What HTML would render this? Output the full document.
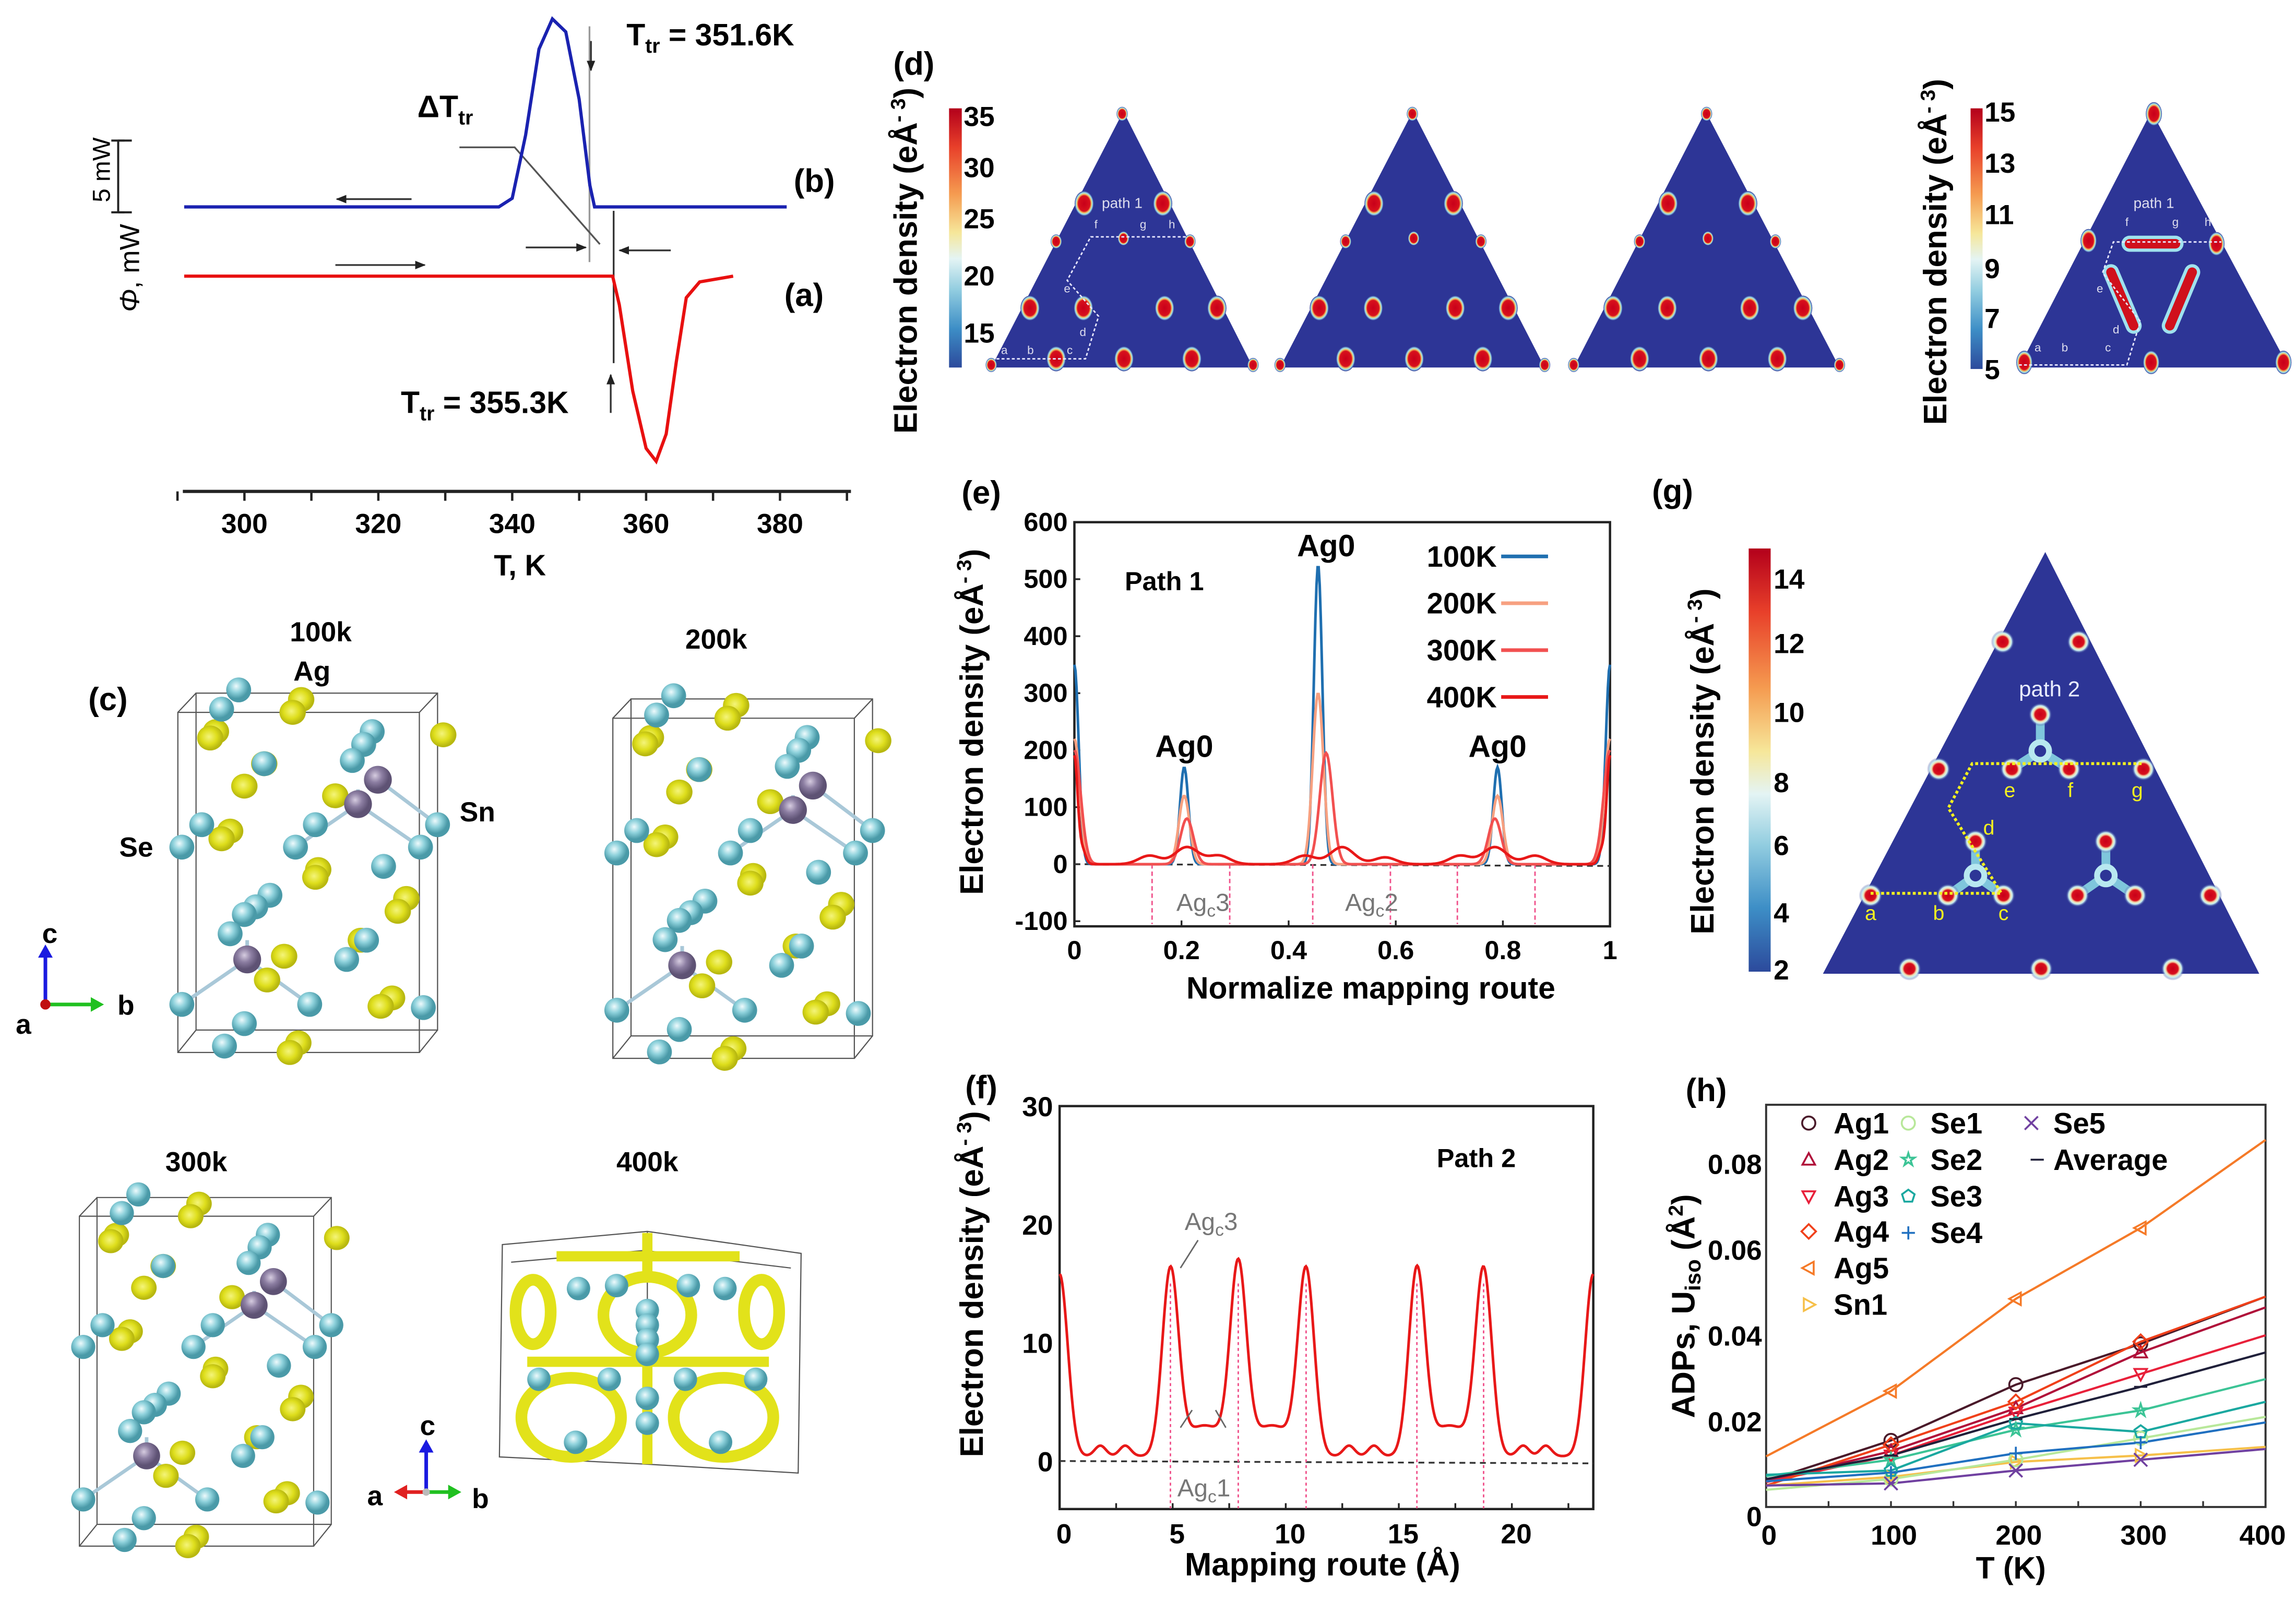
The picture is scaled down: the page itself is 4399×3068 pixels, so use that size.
<!DOCTYPE html>
<html><head><meta charset="utf-8">
<style>
html,body{margin:0;padding:0;background:#fff;}
svg{display:block;}
text{font-family:"Liberation Sans",Arial,sans-serif;}
.b{font-weight:bold;}
</style></head>
<body>
<svg id="fig" xmlns="http://www.w3.org/2000/svg" width="4399" height="3068" viewBox="0 0 1567.7 1093.4" preserveAspectRatio="none">
<defs>
 <linearGradient id="jet" x1="0" y1="0" x2="0" y2="1">
  <stop offset="0" stop-color="#b3001b"/><stop offset="0.15" stop-color="#e8402a"/>
  <stop offset="0.33" stop-color="#f59b50"/><stop offset="0.48" stop-color="#f6e79a"/>
  <stop offset="0.58" stop-color="#e4f4f4"/><stop offset="0.7" stop-color="#92cde0"/>
  <stop offset="0.85" stop-color="#3d8ec6"/><stop offset="1" stop-color="#2c4a9c"/>
 </linearGradient>
 <radialGradient id="spot"><stop offset="0" stop-color="#c8001a"/><stop offset="0.62" stop-color="#d8101c"/>
  <stop offset="0.75" stop-color="#f2c060"/><stop offset="0.86" stop-color="#9fe2ee"/><stop offset="1" stop-color="#2d3596"/></radialGradient>
 <radialGradient id="cy" cx="0.4" cy="0.35"><stop offset="0" stop-color="#eefafc"/><stop offset="0.5" stop-color="#8fd2dc"/><stop offset="1" stop-color="#4a9aa8"/></radialGradient>
 <radialGradient id="ye" cx="0.45" cy="0.45"><stop offset="0" stop-color="#f4f47a"/><stop offset="0.6" stop-color="#dede1c"/><stop offset="1" stop-color="#b8b810"/></radialGradient>
 <radialGradient id="pu" cx="0.4" cy="0.35"><stop offset="0" stop-color="#d6cce0"/><stop offset="0.5" stop-color="#8c7ea2"/><stop offset="1" stop-color="#5e5274"/></radialGradient>
 <radialGradient id="halo"><stop offset="0" stop-color="#c8001a"/><stop offset="0.45" stop-color="#d8101c"/><stop offset="0.6" stop-color="#f4e0b0"/><stop offset="0.75" stop-color="#c8f0f4"/><stop offset="1" stop-color="#2d3596" stop-opacity="0"/></radialGradient>
 <marker id="arr" viewBox="0 0 10 10" refX="9" refY="5" markerWidth="6" markerHeight="6" orient="auto"><path d="M0,1 L10,5 L0,9 z" fill="#222"/></marker>
</defs>

<!-- ===== Panel (a)/(b) DSC ===== -->
<g id="dsc">
 <text x="485" y="31" font-size="21" class="b" text-anchor="middle">T<tspan font-size="14" dy="5">tr</tspan><tspan dy="-5"> = 351.6K</tspan></text>
 <text x="304" y="80" font-size="21" class="b" text-anchor="middle">ΔT<tspan font-size="14" dy="5">tr</tspan></text>
 <text x="556" y="131" font-size="22" class="b" text-anchor="middle">(b)</text>
 <text x="549" y="209" font-size="22" class="b" text-anchor="middle">(a)</text>
 <text x="331" y="282" font-size="21" class="b" text-anchor="middle">T<tspan font-size="14" dy="5">tr</tspan><tspan dy="-5"> = 355.3K</tspan></text>
 <text x="355" y="393" font-size="20" class="b" text-anchor="middle">T, K</text>
 <text transform="translate(95,183) rotate(-90)" font-size="19" font-family="Liberation Serif" text-anchor="middle"><tspan font-style="italic">Φ</tspan>, mW</text>
 <text transform="translate(75,116) rotate(-90)" font-size="17" font-family="Liberation Serif" text-anchor="middle">5 mW</text>
 <g stroke="#222" stroke-width="1.4" fill="none">
  <line x1="80.7" y1="96" x2="80.7" y2="145"/><line x1="80.7" y1="96" x2="90" y2="96"/><line x1="80.7" y1="145" x2="90" y2="145"/>
  <line x1="76" y1="96" x2="85" y2="96"/><line x1="76" y1="145" x2="85" y2="145"/>
 </g>
 <g stroke="#333" stroke-width="1.2" fill="none">
  <line x1="281" y1="136" x2="230" y2="136" marker-end="url(#arr)"/>
  <line x1="229" y1="181" x2="290" y2="181" marker-end="url(#arr)"/>
  <line x1="402.5" y1="18" x2="402.5" y2="179" stroke="#999"/>
  <line x1="403.5" y1="28" x2="403.5" y2="48" marker-end="url(#arr)"/>
  <line x1="419" y1="144" x2="419" y2="248"/>
  <line x1="417" y1="282" x2="417" y2="256" marker-end="url(#arr)"/>
  <line x1="359" y1="169" x2="400" y2="169" marker-end="url(#arr)"/>
  <line x1="458" y1="171" x2="423" y2="171" marker-end="url(#arr)"/>
  <polyline points="313.7,100.6 351.4,100.6 409.6,166.8" stroke="#555"/>
 </g>
 <g id="dsc-axis"></g>
 <g id="dsc-curves"></g>
</g>

<!-- ===== Panel (c) structures ===== -->
<g id="structs">
 <text x="73.7" y="485" font-size="22" class="b" text-anchor="middle">(c)</text>
 <text x="219" y="438" font-size="19" class="b" text-anchor="middle">100k</text>
 <text x="213" y="465" font-size="19" class="b" text-anchor="middle">Ag</text>
 <text x="326" y="561" font-size="19" class="b" text-anchor="middle">Sn</text>
 <text x="93" y="585" font-size="19" class="b" text-anchor="middle">Se</text>
 <text x="489" y="443" font-size="19" class="b" text-anchor="middle">200k</text>
 <text x="134" y="800" font-size="19" class="b" text-anchor="middle">300k</text>
 <text x="442" y="800" font-size="19" class="b" text-anchor="middle">400k</text>
 <g id="cells"></g>
 <g>
  <line x1="31" y1="686" x2="31" y2="652" stroke="#1a1ae0" stroke-width="2.5"/><path d="M26,654 L31,645 L36,654z" fill="#1a1ae0"/>
  <line x1="31" y1="686" x2="64" y2="686" stroke="#20c020" stroke-width="2.5"/><path d="M62,681 L71,686 L62,691z" fill="#20c020"/>
  <circle cx="31" cy="686" r="3.5" fill="#c01010"/>
  <text x="34" y="644" font-size="19" class="b" text-anchor="middle">c</text>
  <text x="86" y="693" font-size="19" class="b" text-anchor="middle">b</text>
  <text x="16" y="706" font-size="19" class="b" text-anchor="middle">a</text>
 </g>
 <g>
  <line x1="291" y1="1019" x2="291" y2="990" stroke="#1a1ae0" stroke-width="2.5"/><path d="M286,992 L291,983 L296,992z" fill="#1a1ae0"/>
  <line x1="291" y1="1019" x2="276" y2="1019" stroke="#e02020" stroke-width="2.5"/><path d="M278,1014 L269,1019 L278,1024z" fill="#e02020"/>
  <line x1="291" y1="1019" x2="308" y2="1019" stroke="#20c020" stroke-width="2.5"/><path d="M306,1014 L315,1019 L306,1024z" fill="#20c020"/>
  <circle cx="291" cy="1019" r="2.5" fill="#bbb"/>
  <text x="292" y="980" font-size="19" class="b" text-anchor="middle">c</text>
  <text x="256" y="1028" font-size="19" class="b" text-anchor="middle">a</text>
  <text x="328" y="1030" font-size="19" class="b" text-anchor="middle">b</text>
 </g>
</g>

<!-- ===== Panel (d) density maps ===== -->
<g id="maps">
 <text x="624" y="51" font-size="22" class="b" text-anchor="middle">(d)</text>
 <text transform="translate(626,178) rotate(-90)" font-size="22" class="b" text-anchor="middle">Electron density (eÅ<tspan font-size="14" dy="-8">- 3</tspan><tspan dy="8">)</tspan></text>
 <rect x="648" y="74" width="8.7" height="177" fill="url(#jet)"/>
 <g font-size="19" class="b">
  <text x="658" y="86">35</text><text x="658" y="121">30</text><text x="658" y="156">25</text><text x="658" y="195">20</text><text x="658" y="234">15</text>
 </g>
 <text transform="translate(1329,172) rotate(-90)" font-size="22" class="b" text-anchor="middle">Electron density (eÅ<tspan font-size="14" dy="-8">- 3</tspan><tspan dy="8">)</tspan></text>
 <rect x="1345.5" y="74" width="8.2" height="178" fill="url(#jet)"/>
 <g font-size="19" class="b">
  <text x="1355" y="83">15</text><text x="1355" y="118">13</text><text x="1355" y="153">11</text><text x="1355" y="190">9</text><text x="1355" y="224">7</text><text x="1355" y="259">5</text>
 </g>
 <g id="tris"></g>
</g>

<!-- ===== Panel (g) ===== -->
<g id="gpanel">
 <text x="1142" y="343" font-size="22" class="b" text-anchor="middle">(g)</text>
 <text transform="translate(1170,520) rotate(-90)" font-size="22" class="b" text-anchor="middle">Electron density (eÅ<tspan font-size="14" dy="-8">- 3</tspan><tspan dy="8">)</tspan></text>
 <rect x="1194" y="374.6" width="15" height="289" fill="url(#jet)"/>
 <g font-size="19" class="b">
  <text x="1211" y="402">14</text><text x="1211" y="446">12</text><text x="1211" y="493">10</text><text x="1211" y="541">8</text><text x="1211" y="584">6</text><text x="1211" y="630">4</text><text x="1211" y="669">2</text>
 </g>
 <g id="gmap"></g>
</g>

<!-- ===== Panel (e) ===== -->
<g id="epanel">
 <text x="670" y="344" font-size="22" class="b" text-anchor="middle">(e)</text>
 <text transform="translate(671,493) rotate(-90)" font-size="22" class="b" text-anchor="middle">Electron density (eÅ<tspan font-size="14" dy="-8">- 3</tspan><tspan dy="8">)</tspan></text>
 <text x="936" y="682" font-size="21" class="b" text-anchor="middle">Normalize mapping route</text>
 <text x="795" y="403" font-size="18" class="b" text-anchor="middle">Path 1</text>
 <g id="echart"></g>
</g>

<!-- ===== Panel (f) ===== -->
<g id="fpanel">
 <text x="670" y="750" font-size="22" class="b" text-anchor="middle">(f)</text>
 <text transform="translate(671,877) rotate(-90)" font-size="22" class="b" text-anchor="middle">Electron density (eÅ<tspan font-size="14" dy="-8">- 3</tspan><tspan dy="8">)</tspan></text>
 <text x="903" y="1076" font-size="22" class="b" text-anchor="middle">Mapping route (Å)</text>
 <text x="1008" y="797" font-size="18" class="b" text-anchor="middle">Path 2</text>
 <g id="fchart"></g>
</g>

<!-- ===== Panel (h) ===== -->
<g id="hpanel">
 <text x="1165" y="752" font-size="22" class="b" text-anchor="middle">(h)</text>
 <text transform="translate(1157,892) rotate(-90)" font-size="22" class="b" text-anchor="middle">ADPs, U<tspan font-size="15" dy="4">iso</tspan><tspan dy="-4"> (Å</tspan><tspan font-size="14" dy="-8">2</tspan><tspan dy="8">)</tspan></text>
 <text x="1373" y="1078" font-size="21" class="b" text-anchor="middle">T (K)</text>
 <g id="hchart"></g>
</g>
</svg>

<script>
// ---------- DATA ----------
// DSC (a)/(b): temperature (K) and heat flow offset (mW)
const blueT = [291,300,320,338,340,342,344,346,348,350,351.6,352.3,360,381];
const blueV = [0,0,0,0,0.6,5,11,13.1,12.2,7.5,1.5,0,0,0];
const redT  = [291,300,320,340,355,356,358,360,361.5,363,364.5,366,368,373];
const redV  = [0,0,0,0,0,-2,-8,-12,-12.9,-11,-6,-1.5,-0.4,0];
const dscTicks = [300,320,340,360,380];

// (e) path 1
const eTicksY = [-100,0,100,200,300,400,500,600];
const eTicksX = [0,0.2,0.4,0.6,0.8,1];
const e100Pos = [0,0.205,0.455,0.79,1];
const e100Val = [350,170,525,170,350];
const e200Pos = [0,0.205,0.455,0.79,1];
const e200Val = [220,120,300,120,220];
const e300Pos = [0,0.21,0.47,0.785,1];
const e300Val = [200,80,195,80,200];
const e400Pos = [0,0.015,0.14,0.21,0.27,0.43,0.50,0.58,0.72,0.785,0.86,0.985,1];
const e400Val = [190,25,15,30,15,15,30,12,15,30,15,25,190];
const eLegend = ['100K','200K','300K','400K'];
const eMarkers = [0.145,0.29,0.445,0.59,0.715,0.86];

// (f) path 2
const fTicksY = [0,10,20,30];
const fTicksX = [0,5,10,15,20];
const fPeakPos = [0,4.9,7.9,10.9,15.8,18.75,23.6];
const fPeakVal = [15.4,15.4,15.4,15.4,15.4,15.4,15.4];
const fShoulderPos = [6.4,9.4,17.25];
const fShoulderVal = [2.6,2.6,2.6];
const fBumpPos = [1.8,2.9,12.8,13.9,20.5,21.5];
const fBumpVal = [0.9,0.9,0.9,0.9,0.9,0.9];
const fBase = 0.4;
const fMarkers = [4.9,7.9,10.9,15.8,18.75];

// (h) ADPs
const hT = [0,100,200,300,400];
const hTicksX = [0,100,200,300,400];
const hTicksY = [0,0.02,0.04,0.06,0.08];
const hNames = ['Ag1','Ag2','Ag3','Ag4','Ag5','Sn1','Se1','Se2','Se3','Se4','Se5','Average'];
const hAg1 = [0.006,0.0155,0.0285,0.038,0.049];
const hAg2 = [0.006,0.013,0.023,0.036,0.0465];
const hAg3 = [0.0058,0.012,0.022,0.031,0.040];
const hAg4 = [0.005,0.0145,0.0245,0.0385,0.049];
const hAg5 = [0.0118,0.027,0.0485,0.065,0.0855];
const hSn1 = [0.005,0.007,0.0105,0.012,0.014];
const hSe1 = [0.004,0.0065,0.011,0.016,0.021];
const hSe2 = [0.0072,0.011,0.018,0.0225,0.0298];
const hSe3 = [0.0075,0.0085,0.0195,0.0175,0.0245];
const hSe4 = [0.006,0.008,0.0125,0.015,0.0197];
const hSe5 = [0.005,0.0055,0.0085,0.011,0.0135];
const hAvg = [0.0065,0.012,0.0205,0.028,0.036];

// ---------- HELPERS ----------
const NS='http://www.w3.org/2000/svg';
function mk(tag, parent){const e=document.createElementNS(NS,tag);parent.appendChild(e);return e;}
function at(e,o){for(const k in o)e.setAttribute(k,o[k]);return e;}

// ---------- DSC ----------
const ax = T => 166.9 + (T-300)*4.571;
const blueBase = 141.3, redBase = 188.6, mW = 9.8;
(function(){
 const g=document.getElementById('dsc-axis');
 const l=mk('line',g);
 
 
 at(l,{x1:ax(290.8),x2:ax(390.6),y1:335.6,y2:335.6,stroke:'#222','stroke-width':2.2});
 for(let T=290;T<=390;T+=10){
  const t=mk('line',g);
  
  
  at(t,{x1:ax(T),x2:ax(T),y1:335.6,y2:342,stroke:'#222','stroke-width':1.6});
 }
 dscTicks.forEach(T=>{
  const tx=mk('text',g);
  
  
  at(tx,{x:ax(T),y:364,'font-size':19,'text-anchor':'middle','font-weight':'bold'});
  tx.textContent=T;
 });
 const c=document.getElementById('dsc-curves');
 const pb=mk('polyline',c);
 
 
 at(pb,{points:blueT.map((T,i)=>ax(T)+','+(blueBase-blueV[i]*mW)).join(' '),fill:'none',stroke:'#1a22b0','stroke-width':2.2});
 const pr=mk('polyline',c);
 
 
 at(pr,{points:redT.map((T,i)=>ax(T)+','+(redBase-redV[i]*mW)).join(' '),fill:'none',stroke:'#e81010','stroke-width':2.2});
})();

// ---------- CRYSTAL CELLS ----------
const sx = d => d*0.388, sy = d => 409.8 + d*0.4383;
const cyanAtoms=[[420,140],[390,170],[655,205],[640,225],[620,250],[465,255],[355,350],[320,385],[555,350],[520,385],[770,350],[740,385],[675,415],[475,460],[450,478],[430,490],[405,520],[645,530],[610,560],[320,630],[545,630],[745,635],[430,660],[395,695]];
const yellowAtoms=[[530,155],[515,175],[380,205],[370,215],[465,255],[430,290],[405,360],[390,372],[560,420],[555,432],[715,465],[700,485],[500,555],[635,530],[470,592],[690,620],[670,633],[525,690],[510,705],[590,305],[780,210]];
const purpleAtoms=[[665,280],[630,318],[435,560]];
const bonds=[[630,318,520,385],[630,318,740,385],[665,280,770,350],[435,560,320,630],[435,560,545,630],[630,318,630,295],[435,560,435,530]];
function cell(parent, ox, oy, s, name){
 const g=mk('g',parent);
 
 
 g.setAttribute('transform',`translate(${ox},${oy}) scale(${s})`);
 const P=(x,y)=>[sx(x),sy(y)];
 const f=[P(313,175),P(738,175),P(738,705),P(313,705)];
 const b=[P(345,145),P(770,145),P(770,670),P(345,670)];
 const box=mk('path',g);
 
 
 let d='M'+f.map(p=>p.join(',')).join('L')+'Z M'+b.map(p=>p.join(',')).join('L')+'Z';
 for(let i=0;i<4;i++) d+=' M'+f[i].join(',')+'L'+b[i].join(',');
 at(box,{d:d,fill:'none',stroke:'#555','stroke-width':0.8});
 bonds.forEach(q=>{
  const l=mk('line',g);
  
  
  at(l,{x1:sx(q[0]),y1:sy(q[1]),x2:sx(q[2]),y2:sy(q[3]),stroke:'#a9c8d8','stroke-width':2.5});
 });
 yellowAtoms.forEach(q=>{
  const e=mk('ellipse',g);
  
  
  at(e,{cx:sx(q[0]),cy:sy(q[1]),rx:9,ry:8.5,fill:'url(#ye)'});
 });
 cyanAtoms.forEach(q=>{
  const e=mk('circle',g);
  
  
  at(e,{cx:sx(q[0]),cy:sy(q[1]),r:8.5,fill:'url(#cy)'});
 });
 purpleAtoms.forEach(q=>{
  const e=mk('circle',g);
  
  
  at(e,{cx:sx(q[0]),cy:sy(q[1]),r:9.5,fill:'url(#pu)'});
 });
}
const cellsG=document.getElementById('cells');
cell(cellsG,0,0,1,'cell-100k');
cell(cellsG,297,4,1,'cell-200k');
cell(cellsG,-63.6,358.7,0.97,'cell-300k');
(function(){
 const g=mk('g',cellsG);
 
 
 const box=mk('path',g);
 
 
 at(box,{d:'M343,850 L442,841 L547,856 L545,1006 L442,1000 L341,995 Z M442,841 L442,1000 M349,862 L440,854 L540,866',fill:'none',stroke:'#555','stroke-width':0.8});
 const rings=[[442,898,30,26],[390,968,34,27],[494,968,34,27],[364,896,12,22],[520,896,12,22]];
 rings.forEach(r=>{
  const e=mk('ellipse',g);
  
  
  at(e,{cx:r[0],cy:r[1],rx:r[2],ry:r[3],fill:'none',stroke:'#e2e21a','stroke-width':8});
 });
 const bars=[[380,858,505,858],[442,842,442,870],[360,930,525,930],[442,930,442,1000]];
 bars.forEach(q=>{
  const l=mk('line',g);
  
  
  at(l,{x1:q[0],y1:q[1],x2:q[2],y2:q[3],stroke:'#e2e21a','stroke-width':7});
 });
 const at4=[[395,880],[421,878],[470,878],[495,880],[442,895],[442,905],[442,915],[442,925],[368,942],[416,942],[468,942],[516,942],[442,955],[442,972],[393,985],[492,985]];
 at4.forEach(q=>{
  const e=mk('circle',g);
  
  
  at(e,{cx:q[0],cy:q[1],r:8,fill:'url(#cy)'});
 });
})();

// ---------- TRIANGLE MAPS ----------
const triSpots=[[0.355,0.36,1],[0.655,0.36,1],[0.505,0.496,0],[0.248,0.508,0],[0.759,0.508,0],[0.148,0.768,1],[0.352,0.768,1],[0.662,0.768,1],[0.862,0.768,1],[0.248,0.966,1],[0.507,0.966,0.6],[0.766,0.966,1],[0.5,0.01,0],[0.0,0.99,0],[1.0,0.99,0]];
const tris=[[676.8,855.6,767,'map-100k'],[874,1054.7,964.7,'map-200k'],[1074.5,1256,1164.5,'map-300k']];
const triG=document.getElementById('tris');
const TOP=76, BASE=251;
tris.forEach(t=>{
 const g=mk('g',triG);
 
 
 const p=mk('polygon',g);
 
 
 at(p,{points:`${t[2]},${TOP} ${t[0]},${BASE} ${t[1]},${BASE}`,fill:'#2d3596'});
 const W=t[1]-t[0];
 triSpots.forEach(s=>{
  const e=mk('ellipse',g);
  
  
  const big=s[2];
  at(e,{cx:t[0]+s[0]*W,cy:TOP+s[1]*(BASE-TOP),rx:big?6.5:(big===0?3.8:5),ry:big?8.5:4.8,fill:'url(#spot)'});
 });
});
(function(){
 const t=tris[0]; const W=t[1]-t[0];
 const g=mk('g',triG);
 
 
 const X=u=>t[0]+u*W, Y=v=>TOP+v*(BASE-TOP);
 const pl=mk('polyline',g);
 
 
 at(pl,{points:`${X(0.02)},${Y(0.966)} ${X(0.36)},${Y(0.966)} ${X(0.41)},${Y(0.8)} ${X(0.29)},${Y(0.66)} ${X(0.38)},${Y(0.49)} ${X(0.75)},${Y(0.49)}`,fill:'none',stroke:'#e8e8ff','stroke-width':1,'stroke-dasharray':'2,1.5'});
 const labs=[['path 1',0.5,0.36],['f',0.4,0.44],['g',0.58,0.44],['h',0.69,0.44],['e',0.29,0.69],['d',0.35,0.86],['a',0.05,0.93],['b',0.15,0.93],['c',0.3,0.93]];
 labs.forEach(l=>{
  const tx=mk('text',g);
  
  
  at(tx,{x:X(l[1]),y:Y(l[2])+3,'font-size':l[0].length>1?10:8,fill:'#dde','text-anchor':'middle'});
  tx.textContent=l[0];
 });
})();
// 400K map
(function(){
 const L=1378.5,R=1562.8,A=1469,W=R-L;
 const g=mk('g',triG);
 
 
 const p=mk('polygon',g);
 
 
 at(p,{points:`${A},${TOP} ${L},${BASE} ${R},${BASE}`,fill:'#2d3596'});
 const X=u=>L+u*W, Y=v=>TOP+v*(BASE-TOP);
 const rods=[[0.41,0.517,0.58,0.517],[0.341,0.628,0.425,0.837],[0.642,0.628,0.559,0.837]];
 rods.forEach(r=>{
  const l1=mk('line',g);
  
  
  at(l1,{x1:X(r[0]),y1:Y(r[1]),x2:X(r[2]),y2:Y(r[3]),stroke:'#9fe2ee','stroke-width':11,'stroke-linecap':'round'});
  const l2=mk('line',g);
  
  
  at(l2,{x1:X(r[0]),y1:Y(r[1]),x2:X(r[2]),y2:Y(r[3]),stroke:'#d0101c','stroke-width':6.5,'stroke-linecap':'round'});
 });
 const sp=[[0.258,0.505],[0.732,0.517],[0.49,0.98],[0.5,0.01],[0.02,0.98],[0.98,0.98]];
 sp.forEach(s=>{
  const e=mk('ellipse',g);
  
  
  at(e,{cx:X(s[0]),cy:Y(s[1]),rx:5.5,ry:8,fill:'url(#spot)'});
 });
 const pl=mk('polyline',g);
 
 
 at(pl,{points:`${X(0.0)},${Y(0.99)} ${X(0.4)},${Y(0.99)} ${X(0.45)},${Y(0.82)} ${X(0.31)},${Y(0.63)} ${X(0.35)},${Y(0.51)} ${X(0.75)},${Y(0.51)}`,fill:'none',stroke:'#e8e8ff','stroke-width':1,'stroke-dasharray':'2,1.5'});
 const labs=[['path 1',0.5,0.36],['f',0.4,0.43],['g',0.58,0.43],['h',0.7,0.43],['e',0.3,0.69],['d',0.36,0.85],['a',0.07,0.92],['b',0.17,0.92],['c',0.33,0.92]];
 labs.forEach(l=>{
  const tx=mk('text',g);
  
  
  at(tx,{x:X(l[1]),y:Y(l[2])+3,'font-size':l[0].length>1?10:8,fill:'#dde','text-anchor':'middle'});
  tx.textContent=l[0];
 });
})();

// ---------- (g) MAP ----------
(function(){
 const gm=document.getElementById('gmap');
 const L=1244.7,R=1542.6,T=377,B=665,A=1396.5;
 const cx=dx=>(3150+dx/1.249)/2.806, cy=dy=>(880+dy/1.529)/2.806;
 const p=mk('polygon',gm);
 
 
 at(p,{points:`${A},${T} ${L},${B} ${R},${B}`,fill:'#2d3596'});
 const tref=[[948,855,[[948,748],[880,908],[1017,908]]],[793,1220,[[793,1120],[727,1278],[860,1278]]],[1105,1220,[[1105,1120],[1037,1278],[1175,1278]]]];
 tref.forEach(t=>{
  t[2].forEach(q=>{
   const l=mk('line',gm);
   
   
   at(l,{x1:cx(t[0]),y1:cy(t[1]),x2:cx(q[0]),y2:cy(q[1]),stroke:'#7fc6dc','stroke-width':6,'stroke-linecap':'round'});
  });
  const r=mk('circle',gm);
  
  
  at(r,{cx:cx(t[0]),cy:cy(t[1]),r:6,fill:'#2d3596',stroke:'#b8e8f0','stroke-width':4});
 });
 const spots=[[858,535],[1040,535],[948,748],[880,908],[1017,908],[705,908],[1195,908],[793,1120],[727,1278],[860,1278],[1105,1120],[1037,1278],[1175,1278],[542,1278],[1355,1278],[635,1493],[950,1493],[1265,1493]];
 spots.forEach(q=>{
  const e=mk('circle',gm);
  
  
  at(e,{cx:cx(q[0]),cy:cy(q[1]),r:8,fill:'url(#halo)'});
 });
 const path=mk('polyline',gm);
 
 
 at(path,{points:[[542,1272],[855,1272],[728,1022],[785,892],[1195,892]].map(q=>cx(q[0])+','+cy(q[1])).join(' '),fill:'none',stroke:'#f2f020','stroke-width':2,'stroke-dasharray':'2,1.6'});
 const labs=[['a',542,1350],['b',705,1350],['c',860,1350],['d',825,1100],['e',875,990],['f',1020,990],['g',1180,990]];
 labs.forEach(l=>{
  const tx=mk('text',gm);
  
  
  at(tx,{x:cx(l[1]),y:cy(l[2]),'font-size':14,fill:'#f2f020','text-anchor':'middle'});
  tx.textContent=l[0];
 });
 const pt=mk('text',gm);
 
 
 at(pt,{x:cx(970),y:cy(695),'font-size':15,fill:'#e8ecff','text-anchor':'middle'});
 pt.textContent='path 2';
})();

// ---------- (e) CHART ----------
const exS = v => 733.6 + v*(1099.3-733.6);
const eyS = v => 590.2 - v*0.3893;
function gsum(pos,val,w,x){let s=0;for(let i=0;i<pos.length;i++){const ww=Array.isArray(w)?w[i]:w;s+=val[i]*Math.exp(-((x-pos[i])**2)/(2*ww*ww));}return s;}
(function(){
 const g=document.getElementById('echart');
 const fr=mk('rect',g);
 
 
 at(fr,{x:exS(0),y:eyS(600),width:exS(1)-exS(0),height:eyS(-109)-eyS(600),fill:'none',stroke:'#222','stroke-width':1.6});
 eTicksY.forEach(v=>{
  const t=mk('text',g);
  
  
  at(t,{x:729,y:eyS(v)+6,'font-size':18,'font-weight':'bold','text-anchor':'end'});
  t.textContent=v;
  const tk=mk('line',g);
  
  
  at(tk,{x1:exS(0),x2:exS(0)+4,y1:eyS(v),y2:eyS(v),stroke:'#222','stroke-width':1.2});
 });
 eTicksX.forEach(v=>{
  const t=mk('text',g);
  
  
  at(t,{x:exS(v),y:655,'font-size':18,'font-weight':'bold','text-anchor':'middle'});
  t.textContent=v;
  const tk=mk('line',g);
  
  
  at(tk,{x1:exS(v),x2:exS(v),y1:eyS(-109),y2:eyS(-109)-4,stroke:'#222','stroke-width':1.2});
 });
 const z=mk('line',g);
 
 
 at(z,{x1:exS(0),x2:exS(1),y1:eyS(0),y2:eyS(-3),stroke:'#333','stroke-width':1.2,'stroke-dasharray':'4,3'});
 eMarkers.forEach(v=>{
  const l=mk('line',g);
  
  
  at(l,{x1:exS(v),x2:exS(v),y1:eyS(0),y2:eyS(-105),stroke:'#f0508a','stroke-width':1,'stroke-dasharray':'3,2'});
 });
 const series=[[e100Pos,e100Val,0.008,'#1f6fb0','series-100k'],[e200Pos,e200Val,0.01,'#f7a080','series-200k'],[e300Pos,e300Val,0.012,'#f25050','series-300k'],[e400Pos,e400Val,[0.006,0.006,0.02,0.022,0.02,0.02,0.022,0.02,0.02,0.022,0.02,0.006,0.006],'#e81818','series-400k']];
 series.forEach(s=>{
  let pts=[];
  for(let i=0;i<=500;i++){const x=i/500;pts.push(exS(x).toFixed(2)+','+eyS(gsum(s[0],s[1],s[2],x)).toFixed(2));}
  const pl=mk('polyline',g);
  
  
  at(pl,{points:pts.join(' '),fill:'none',stroke:s[3],'stroke-width':1.8});
 });
 const cols=['#1f6fb0','#f7a080','#f25050','#e81818'];
 eLegend.forEach((n,i)=>{
  const y=380+i*32;
  const t=mk('text',g);
  
  
  at(t,{x:1022,y:y+7,'font-size':20,'font-weight':'bold','text-anchor':'end'});
  t.textContent=n;
  const l=mk('line',g);
  
  
  at(l,{x1:1025,x2:1057,y1:y,y2:y,stroke:cols[i],'stroke-width':2.5});
 });
 const ag=[[0.205,517],[0.47,380],[0.79,517]];
 ag.forEach(a=>{
  const t=mk('text',g);
  
  
  at(t,{x:exS(a[0]),y:a[1],'font-size':21,'font-weight':'bold','text-anchor':'middle'});
  t.textContent='Ag0';
 });
 const agc=[[0.24,'3',622],[0.555,'2',622]];
 agc.forEach(a=>{
  const t=mk('text',g);
  
  
  at(t,{x:exS(a[0]),y:a[2],'font-size':17,fill:'#777','text-anchor':'middle'});
  t.innerHTML='Ag<tspan font-size="12" dy="4">c</tspan><tspan dy="-4">'+a[1]+'</tspan>';
 });
})();

// ---------- (f) CHART ----------
const fxS = v => 723.5 + v*15.44;
const fyS = v => 997.8 - v*8.08;
(function(){
 const g=document.getElementById('fchart');
 const fr=mk('rect',g);
 
 
 at(fr,{x:fxS(0),y:fyS(30),width:fxS(23.6)-fxS(0),height:fyS(-4.06)-fyS(30),fill:'none',stroke:'#222','stroke-width':1.6});
 fTicksY.forEach(v=>{
  const t=mk('text',g);
  
  
  at(t,{x:719,y:fyS(v)+7,'font-size':19,'font-weight':'bold','text-anchor':'end'});
  t.textContent=v;
 });
 fTicksX.forEach(v=>{
  const t=mk('text',g);
  
  
  at(t,{x:fxS(v)+3,y:1054,'font-size':19,'font-weight':'bold','text-anchor':'middle'});
  t.textContent=v;
 });
 for(let v=0;v<=22.5;v+=2.5){
  const tk=mk('line',g);
  
  
  at(tk,{x1:fxS(v),x2:fxS(v),y1:fyS(-4.06),y2:fyS(-4.06)-4,stroke:'#222','stroke-width':1.2});
 }
 const z=mk('line',g);
 
 
 at(z,{x1:fxS(0),x2:fxS(23.6),y1:fyS(0),y2:fyS(-0.2),stroke:'#333','stroke-width':1.2,'stroke-dasharray':'4,3'});
 fMarkers.forEach(v=>{
  const l=mk('line',g);
  
  
  at(l,{x1:fxS(v),x2:fxS(v),y1:fyS(15),y2:fyS(-4),stroke:'#f0508a','stroke-width':1,'stroke-dasharray':'2,2'});
 });
 let pts=[];
 for(let i=0;i<=600;i++){const x=i/600*23.6;const y=fBase+gsum(fPeakPos,fPeakVal,0.36,x)+gsum(fShoulderPos,fShoulderVal,0.9,x)+gsum(fBumpPos,fBumpVal,0.25,x);pts.push(fxS(x).toFixed(2)+','+fyS(y).toFixed(2));}
 const pl=mk('polyline',g);
 
 
 at(pl,{points:pts.join(' '),fill:'none',stroke:'#e81818','stroke-width':1.8});
 const a3=mk('text',g);
 
 
 at(a3,{x:827,y:840,'font-size':17,fill:'#777','text-anchor':'middle'});
 a3.innerHTML='Ag<tspan font-size="12" dy="4">c</tspan><tspan dy="-4">3</tspan>';
 const a1=mk('text',g);
 
 
 at(a1,{x:822,y:1022,'font-size':17,fill:'#777','text-anchor':'middle'});
 a1.innerHTML='Ag<tspan font-size="12" dy="4">c</tspan><tspan dy="-4">1</tspan>';
 const ld=mk('path',g);
 
 
 at(ld,{d:'M818,847 L806,866 M806,975 L814,963 M830,963 L837,975',stroke:'#666','stroke-width':1,fill:'none'});
})();

// ---------- (h) CHART ----------
const hxS = v => 1205.9 + v*(1546.9-1205.9)/400;
const hyS = v => 1029.2 - v/0.0937*(1029.2-754.5);
(function(){
 const g=document.getElementById('hchart');
 const fr=mk('rect',g);
 
 
 at(fr,{x:hxS(0),y:hyS(0.0937),width:hxS(400)-hxS(0),height:hyS(0)-hyS(0.0937),fill:'none',stroke:'#333','stroke-width':1.4});
 hTicksY.forEach(v=>{
  const t=mk('text',g);
  
  
  at(t,{x:1203,y:hyS(v)+(v===0?13:7),'font-size':19,'font-weight':'bold','text-anchor':'end'});
  t.textContent=v;
 });
 hTicksX.forEach(v=>{
  const t=mk('text',g);
  
  
  at(t,{x:hxS(v)+(v===400?-2:2),y:1055,'font-size':19,'font-weight':'bold','text-anchor':'middle'});
  t.textContent=v;
 });
 for(let v=50;v<400;v+=50){
  const tk=mk('line',g);
  
  
  at(tk,{x1:hxS(v),x2:hxS(v),y1:hyS(0),y2:hyS(0)-4,stroke:'#333','stroke-width':1.2});
 }
 const data=[hAg1,hAg2,hAg3,hAg4,hAg5,hSn1,hSe1,hSe2,hSe3,hSe4,hSe5,hAvg];
 const cols=['#4a1a2a','#b0103a','#e8203a','#f0401a','#f57a28','#f6c04a','#b8e89a','#3cc496','#1aa8a0','#2070c0','#7040a0','#20203a'];
 const marks=['o','^','v','d','<','>','o','*','p','+','x','-'];
 data.forEach((arr,k)=>{
  let d='';
  for(let i=0;i<=80;i++){
   const T=i*5;
   let j=Math.min(3,Math.floor(T/100));
   const tt=(T-hT[j])/100;
   let v=arr[j]+(arr[j+1]-arr[j])*tt;
   d+=(i?'L':'M')+hxS(T).toFixed(2)+','+hyS(v).toFixed(2);
  }
  const p=mk('path',g);
  
  
  at(p,{d:d,fill:'none',stroke:cols[k],'stroke-width':1.5});
 });
 function marker(type,x,y,c,s,name){
  let e;
  if(type==='o'){e=mk('circle',g);at(e,{cx:x,cy:y,r:s});}
  else if(type==='+'){e=mk('path',g);at(e,{d:`M${x-s},${y}L${x+s},${y}M${x},${y-s}L${x},${y+s}`});}
  else if(type==='x'){e=mk('path',g);at(e,{d:`M${x-s},${y-s}L${x+s},${y+s}M${x-s},${y+s}L${x+s},${y-s}`});}
  else if(type==='-'){e=mk('path',g);at(e,{d:`M${x-s},${y}L${x+s},${y}`});}
  else {
   const shapes={'^':[[0,-1],[0.95,0.75],[-0.95,0.75]],'v':[[0,1],[0.95,-0.75],[-0.95,-0.75]],'d':[[0,-1.1],[1.1,0],[0,1.1],[-1.1,0]],'<':[[-1,0],[0.75,-0.95],[0.75,0.95]],'>':[[1,0],[-0.75,-0.95],[-0.75,0.95]],'p':[[0,-1],[0.95,-0.31],[0.59,0.81],[-0.59,0.81],[-0.95,-0.31]],'*':[[0,-1],[0.22,-0.3],[0.95,-0.31],[0.36,0.12],[0.59,0.81],[0,0.38],[-0.59,0.81],[-0.36,0.12],[-0.95,-0.31],[-0.22,-0.3]]};
   e=mk('polygon',g);at(e,{points:shapes[type].map(q=>(x+q[0]*s).toFixed(2)+','+(y+q[1]*s).toFixed(2)).join(' ')});
  }
  
  
  at(e,{fill:'none',stroke:c,'stroke-width':1.3});
 }
 data.forEach((arr,k)=>{
  for(let i=1;i<=3;i++) marker(marks[k],hxS(hT[i]),hyS(arr[i]),cols[k],4.5,'adp-point-'+hNames[k].toLowerCase());
 });
 const leg=[[0,1235,1252,772],[1,1235,1252,797],[2,1235,1252,822],[3,1235,1252,846],[4,1235,1252,871],[5,1235,1252,896],[6,1303,1318,772],[7,1303,1318,797],[8,1303,1318,822],[9,1303,1318,847],[10,1387,1402,772],[11,1391,1402,797]];
 leg.forEach(l=>{
  marker(marks[l[0]],l[1],l[3]-5,cols[l[0]],4.5,'h-legend-marker');
  const t=mk('text',g);
  
  
  at(t,{x:l[2],y:l[3]+2,'font-size':20,'font-weight':'bold'});
  t.textContent=hNames[l[0]];
 });
})();
</script>
</body></html>
